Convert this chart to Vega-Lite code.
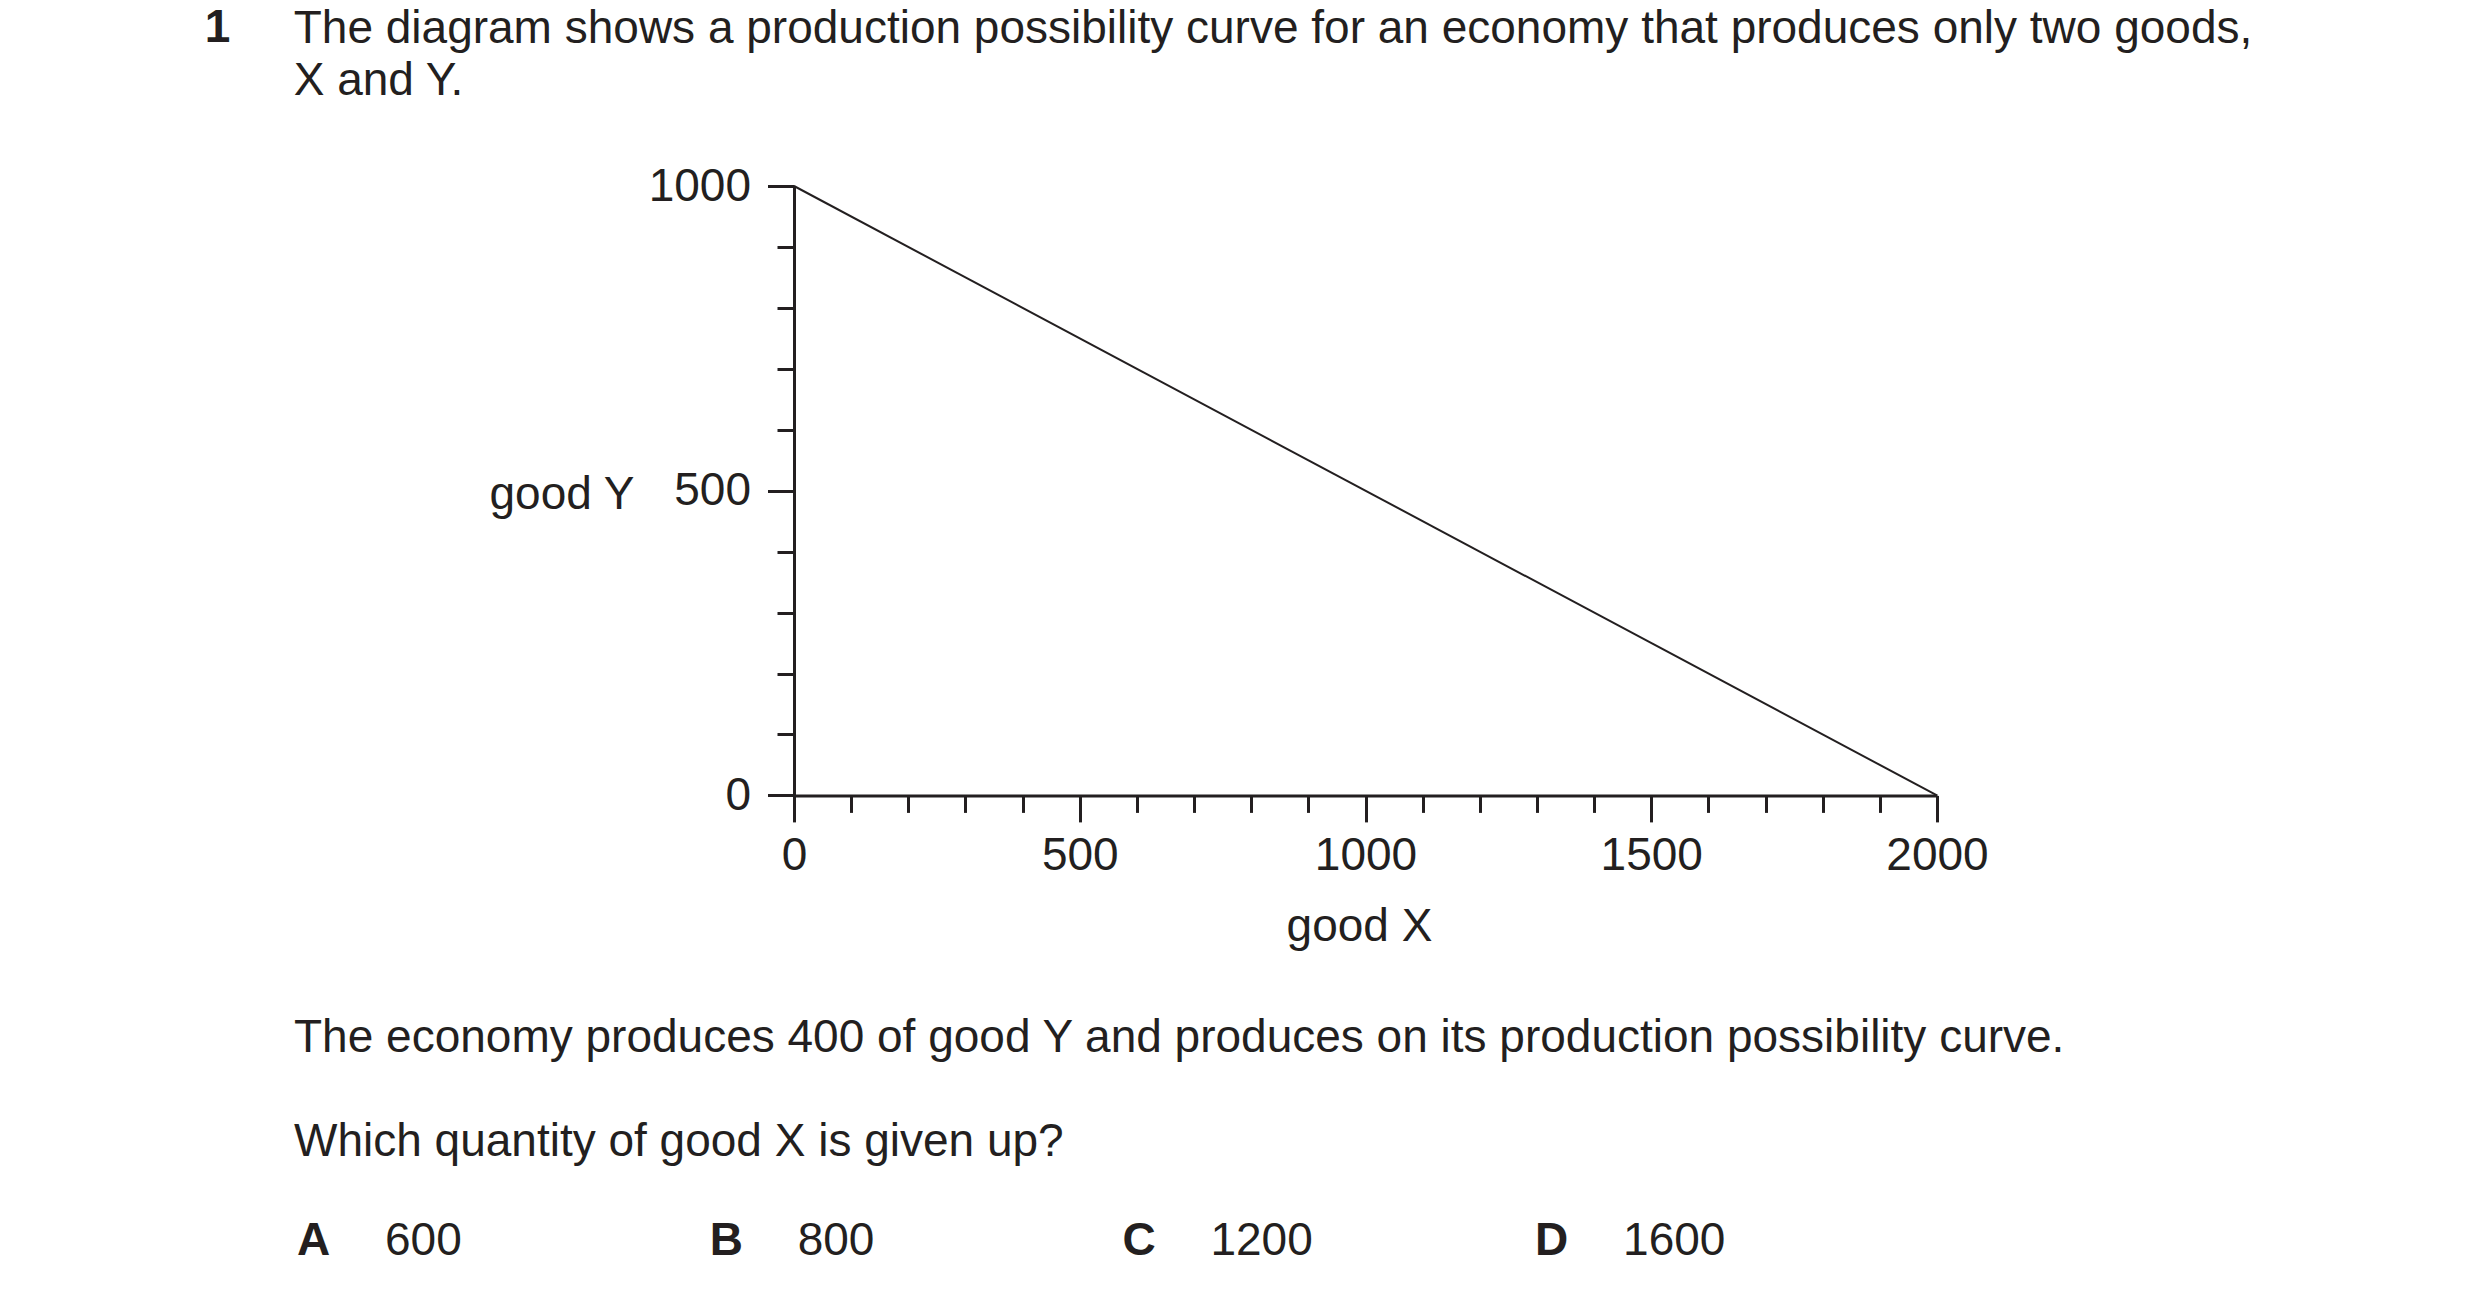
{
  "$schema": "https://vega.github.io/schema/vega-lite/v6.json",
  "description": "Production possibility curve for an economy producing goods X and Y, with the exam question around it.",
  "background": "white",
  "padding": {"left": 204, "top": 5, "right": 0, "bottom": 0},
  "config": {
    "view": {"stroke": null},
    "font": "Liberation Sans"
  },
  "title": {
    "text": "1",
    "orient": "left",
    "anchor": "end",
    "frame": "bounds",
    "angle": 0,
    "align": "right",
    "baseline": "top",
    "offset": 37.8,
    "font": "Liberation Sans",
    "fontSize": 46,
    "fontWeight": "bold",
    "color": "#231f20"
  },
  "center": true,
  "bounds": "flush",
  "spacing": 419,
  "vconcat": [
    {
      "title": {
        "text": [
          "The diagram shows a production possibility curve for an economy that produces only two goods,",
          "X and Y."
        ],
        "anchor": "start",
        "frame": "group",
        "dx": -500.3,
        "offset": 58,
        "font": "Liberation Sans",
        "fontSize": 46,
        "fontWeight": "normal",
        "color": "#231f20",
        "lineHeight": 51.6
      },
      "width": 1143,
      "height": 609.4,
      "data": {
        "values": [
          {"good X": 0, "good Y": 1000},
          {"good X": 2000, "good Y": 0}
        ]
      },
      "mark": {"type": "line", "color": "#231f20", "strokeWidth": 2},
      "encoding": {
        "x": {
          "field": "good X",
          "type": "quantitative",
          "scale": {"domain": [0, 2000], "nice": false},
          "axis": {
            "values": [0, 100, 200, 300, 400, 500, 600, 700, 800, 900, 1000, 1100, 1200, 1300, 1400, 1500, 1600, 1700, 1800, 1900, 2000],
            "format": "d",
            "labelExpr": "datum.value % 500 === 0 ? datum.label : ''",
            "labelFlush": false,
            "labelOverlap": false,
            "labelFont": "Liberation Sans",
            "labelFontSize": 46,
            "labelColor": "#231f20",
            "labelPadding": 12,
            "tickSize": {"condition": {"test": "datum.value % 500 === 0", "value": 26.5}, "value": 17},
            "tickWidth": 3,
            "tickColor": "#231f20",
            "domainWidth": 3,
            "domainColor": "#231f20",
            "grid": false,
            "title": "good X",
            "titleFont": "Liberation Sans",
            "titleFontSize": 46,
            "titleFontWeight": "normal",
            "titleColor": "#231f20",
            "titleAlign": "center",
            "titleBaseline": "alphabetic",
            "titleX": 565,
            "titleY": 145
          }
        },
        "y": {
          "field": "good Y",
          "type": "quantitative",
          "scale": {"domain": [0, 1000], "nice": false},
          "axis": {
            "values": [0, 100, 200, 300, 400, 500, 600, 700, 800, 900, 1000],
            "format": "d",
            "labelExpr": "datum.value % 500 === 0 ? datum.label : ''",
            "labelFlush": false,
            "labelOverlap": false,
            "labelFont": "Liberation Sans",
            "labelFontSize": 46,
            "labelColor": "#231f20",
            "labelPadding": 17,
            "tickSize": {"condition": {"test": "datum.value % 500 === 0", "value": 26.5}, "value": 17},
            "tickWidth": 3,
            "tickColor": "#231f20",
            "domainWidth": 3,
            "domainColor": "#231f20",
            "grid": false,
            "title": "good Y",
            "titleFont": "Liberation Sans",
            "titleFontSize": 46,
            "titleFontWeight": "normal",
            "titleColor": "#231f20",
            "titleAngle": 0,
            "titleAlign": "right",
            "titleBaseline": "alphabetic",
            "titleX": -160,
            "titleY": 322.4
          }
        }
      }
    },
    {
      "title": {
        "text": [
          "The economy produces 400 of good Y and produces on its production possibility curve.",
          "Which quantity of good X is given up?"
        ],
        "anchor": "start",
        "frame": "group",
        "dx": -3,
        "offset": 49,
        "font": "Liberation Sans",
        "fontSize": 46,
        "fontWeight": "normal",
        "color": "#231f20",
        "lineHeight": 104.4
      },
      "width": 2137,
      "height": 80,
      "data": {
        "values": [
          {"option": "A", "quantity": 600},
          {"option": "B", "quantity": 800},
          {"option": "C", "quantity": 1200},
          {"option": "D", "quantity": 1600}
        ]
      },
      "encoding": {
        "x": {
          "field": "option",
          "type": "nominal",
          "bandPosition": 0,
          "scale": {"type": "band", "paddingInner": 0, "paddingOuter": 0.589, "align": 0},
          "axis": null
        }
      },
      "layer": [
        {
          "mark": {"type": "text", "align": "left", "baseline": "alphabetic", "font": "Liberation Sans", "fontSize": 46, "fontWeight": "bold", "color": "#231f20"},
          "encoding": {
            "text": {"field": "option", "type": "nominal"}
          }
        },
        {
          "mark": {"type": "text", "align": "left", "baseline": "alphabetic", "font": "Liberation Sans", "fontSize": 46, "dx": 88, "color": "#231f20"},
          "encoding": {
            "text": {"field": "quantity", "type": "quantitative", "format": "d"}
          }
        }
      ]
    }
  ]
}
